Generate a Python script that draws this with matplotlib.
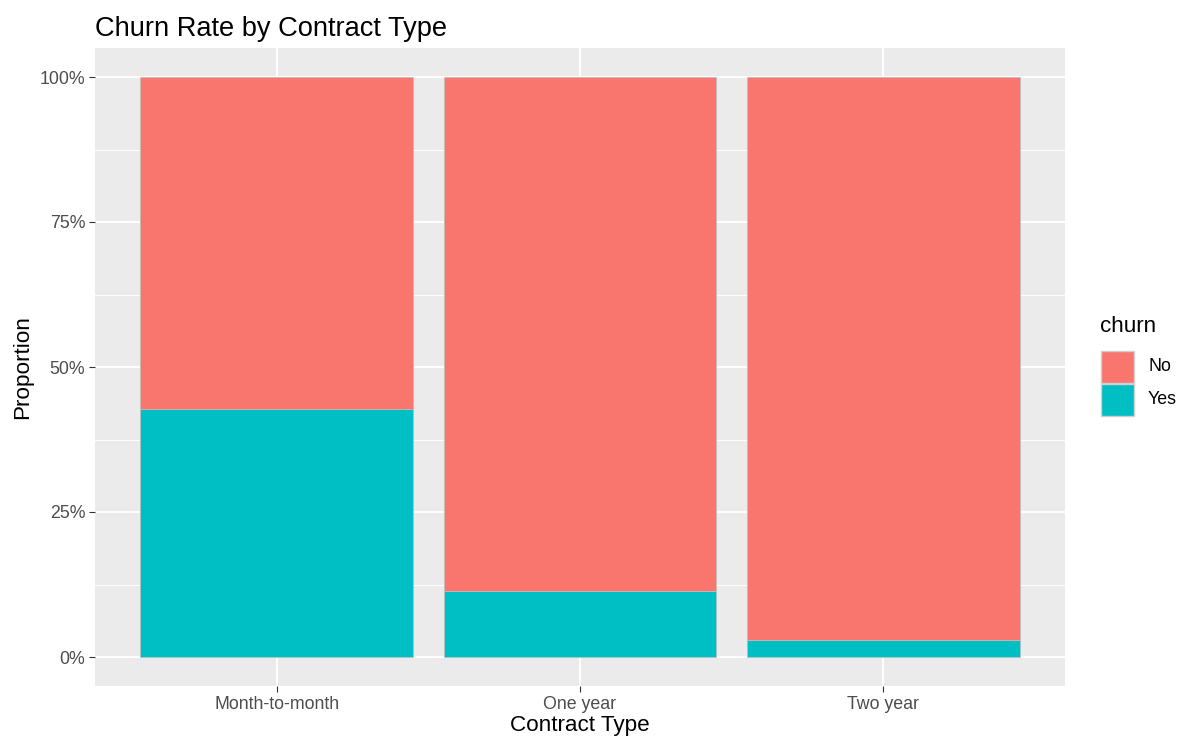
import matplotlib.pyplot as plt
import numpy as np

contracts = ['Month-to-month', 'One year', 'Two year']
yes_share = [0.427, 0.113, 0.03]
no_share = [1 - v for v in yes_share]
churn_levels = ['No', 'Yes']
churn_colors = ['#F8766D', '#00BFC4']

plt.rcParams['font.family'] = ['Arial', 'Liberation Sans', 'DejaVu Sans']

fig = plt.figure(figsize=(12, 7.5), dpi=100)
ax = fig.add_axes([95 / 1200, 64 / 750, 970 / 1200, 638 / 750])
ax.set_facecolor('#EBEBEB')

x = np.arange(1, len(contracts) + 1)
ax.bar(x, yes_share, width=0.9, color=churn_colors[1], edgecolor='#BEBEBE', linewidth=0.5, zorder=3)
ax.bar(x, no_share, width=0.9, bottom=yes_share, color=churn_colors[0], edgecolor='#BEBEBE', linewidth=0.5, zorder=3)

ax.set_xlim(0.4, 3.6)
ax.set_ylim(-0.05, 1.05)
ax.set_xticks(x)
ax.set_xticklabels(contracts)
ax.set_yticks([0, 0.25, 0.5, 0.75, 1.0])
ax.set_yticklabels(['0%', '25%', '50%', '75%', '100%'])
ax.set_yticks([0.125, 0.375, 0.625, 0.875], minor=True)

ax.grid(which='major', color='white', linewidth=1.4, zorder=0)
ax.grid(which='minor', axis='y', color='white', linewidth=0.7, zorder=0)
ax.set_axisbelow(True)
for s in ax.spines.values():
    s.set_visible(False)
ax.tick_params(which='major', length=4, color='#333333', labelcolor='#4D4D4D', labelsize=12.8, pad=3)
ax.tick_params(which='minor', length=0)

ax.set_xlabel('Contract Type', fontsize=16.2, labelpad=2)
ax.set_ylabel('Proportion', fontsize=16.2, labelpad=5)
ax.set_title('Churn Rate by Contract Type', fontsize=19.6, loc='left', x=0, pad=9)

# legend by hand, ggplot style
fig.text(1100 / 1200, 1 - 326 / 750, 'churn', fontsize=16.2, va='center', ha='left')
for i, (lab, col) in enumerate(zip(churn_levels, churn_colors)):
    y0 = 1 - (351 + i * 33) / 750
    fig.patches.append(plt.Rectangle((1101 / 1200, y0 - 32 / 750), 33 / 1200, 32 / 750,
                                     transform=fig.transFigure, facecolor=col,
                                     edgecolor='#D0D0D0', linewidth=1))
    fig.text(1148 / 1200, y0 - 16 / 750, lab, fontsize=12.8, va='center', ha='left')

fig.savefig('out.png', dpi=100)
